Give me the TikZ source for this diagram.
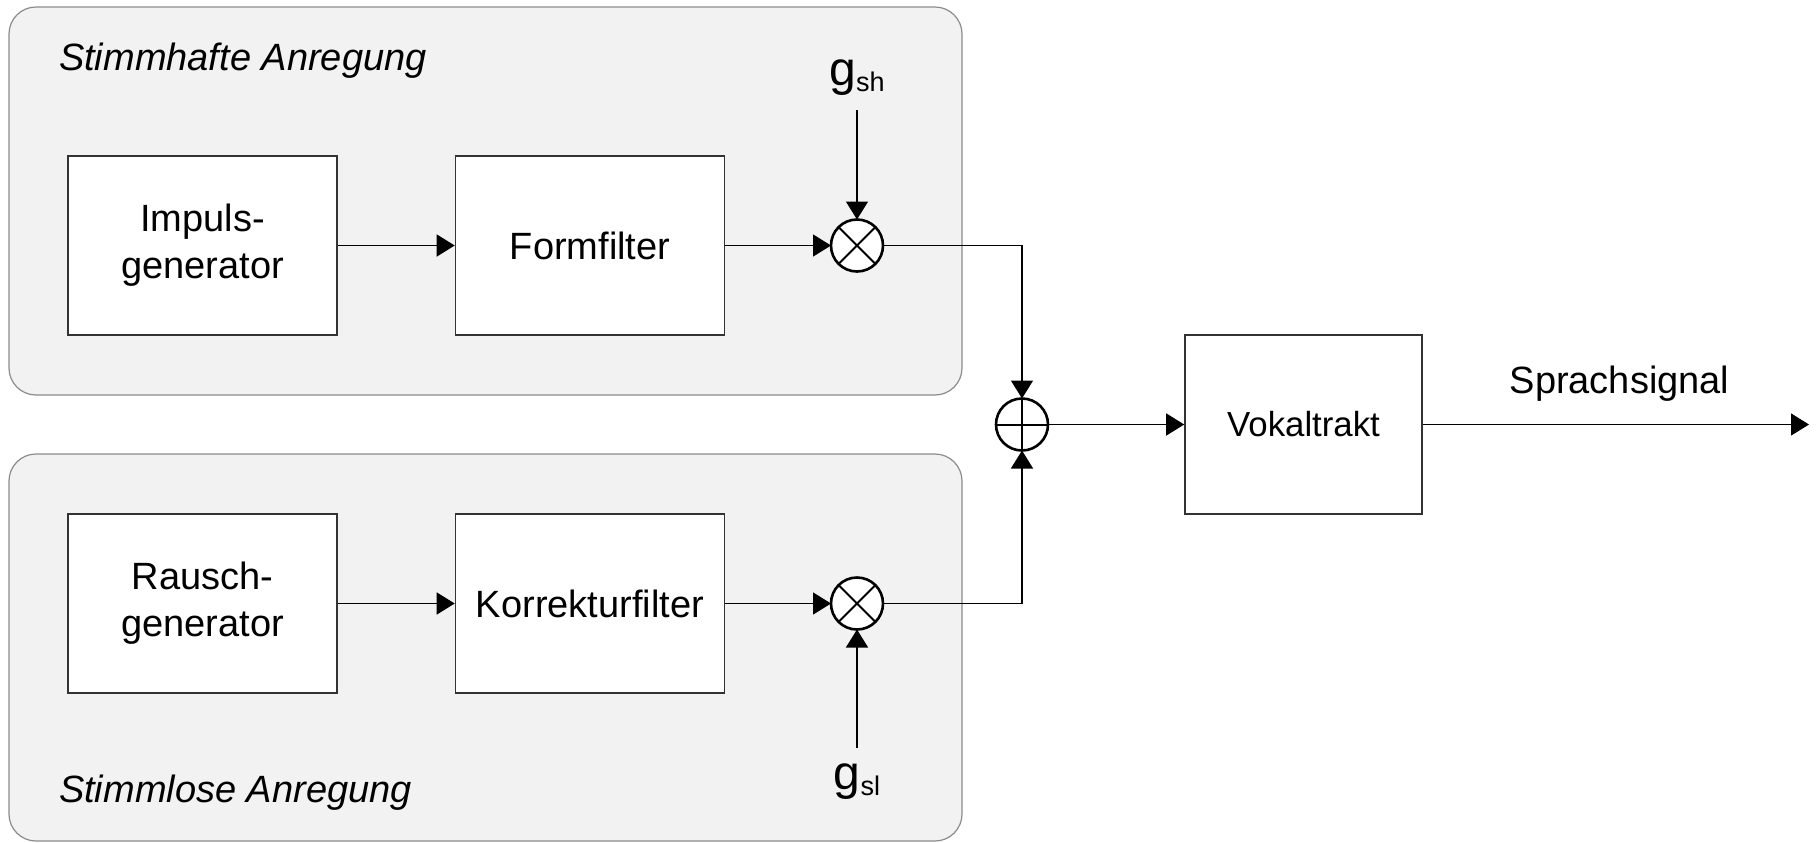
\documentclass[tikz,border=0pt]{standalone}
\usepackage{fontspec}
\setmainfont{Liberation Sans}
\usepackage{tikz}
\usepackage{xcolor}
\usetikzlibrary{arrows.meta}

\definecolor{groupfill}{HTML}{F2F2F2}
\definecolor{groupline}{HTML}{8C8C8C}
\definecolor{boxline}{HTML}{333333}

\begin{document}
\begin{tikzpicture}[x=0.5pt,y=-0.5pt,
  >={Triangle[length=9pt,width=11pt]},
  every node/.style={font=\fontsize{19}{23.5}\selectfont},
  block/.style={rectangle,draw=boxline,line width=0.8pt,fill=white,
    minimum width=134.5pt,minimum height=89.5pt,align=center,inner sep=0pt},
  mult/.style={circle,draw=black,line width=1.3pt,fill=white,
    minimum size=26pt,inner sep=0pt,outer sep=0pt},
  gain/.style={inner sep=7.5pt,anchor=base,font=\fontsize{24}{24}\selectfont},
  group/.style={draw=groupline,fill=groupfill,line width=0.6pt,rounded corners=13.5pt},
  wire/.style={line width=0.75pt,draw=black}]
\fill[white] (0,0) rectangle (1816,842);
\useasboundingbox (0,0) rectangle (1816,842);
% excitation groups
\draw[group] (9,7) rectangle (962,395);
\draw[group] (9,454) rectangle (962,841);
\node (voiced) at (52,70) [anchor=base west] {\itshape Stimmhafte Anregung};
\node (unvoiced) at (52,802) [anchor=base west] {\itshape Stimmlose Anregung};
% voiced branch
\node (imp) at (202.5,245.5) [block] {Impuls-\\generator};
\node (form) at (590,245.5) [block] {Formfilter};
\node (mh) at (857,245.5) [mult] {};
\node (gsh) at (857,85) [gain] {g\raisebox{-3pt}{\fontsize{13.5}{13.5}\selectfont sh}};
% unvoiced branch
\node (noise) at (202.5,603.5) [block] {Rausch-\\generator};
\node (korr) at (590,603.5) [block] {Korrekturfilter};
\node (ml) at (857,603.5) [mult] {};
\node (gsl) at (857,789) [gain] {g\raisebox{-3pt}{\fontsize{13.5}{13.5}\selectfont sl}};
% adder and vocal tract
\node (sum) at (1022,424.5) [mult] {};
\node (vok) at (1303.5,424.5) [block,minimum width=118.5pt,
  font=\fontsize{17.4}{20}\selectfont] {Vokaltrakt};
\coordinate (out) at (1809,424.5);
\node (speech) at (1619.5,393) [anchor=base] {Sprachsignal};
% operator symbols
\draw[line width=1pt] (mh.north west) -- (mh.south east) (mh.north east) -- (mh.south west);
\draw[line width=1pt] (ml.north west) -- (ml.south east) (ml.north east) -- (ml.south west);
\draw[line width=1pt] (sum.north) -- (sum.south) (sum.west) -- (sum.east);
% signal flow
\draw[wire,->] (imp) -- (form);
\draw[wire,->] (form) -- (mh);
\draw[wire,->] (gsh) -- (mh);
\draw[wire,->] (mh) -| (sum);
\draw[wire,->] (noise) -- (korr);
\draw[wire,->] (korr) -- (ml);
\draw[wire,->] (gsl) -- (ml);
\draw[wire,->] (ml) -| (sum);
\draw[wire,->] (sum) -- (vok);
\draw[wire,->] (vok) -- (out);
\end{tikzpicture}
\end{document}
